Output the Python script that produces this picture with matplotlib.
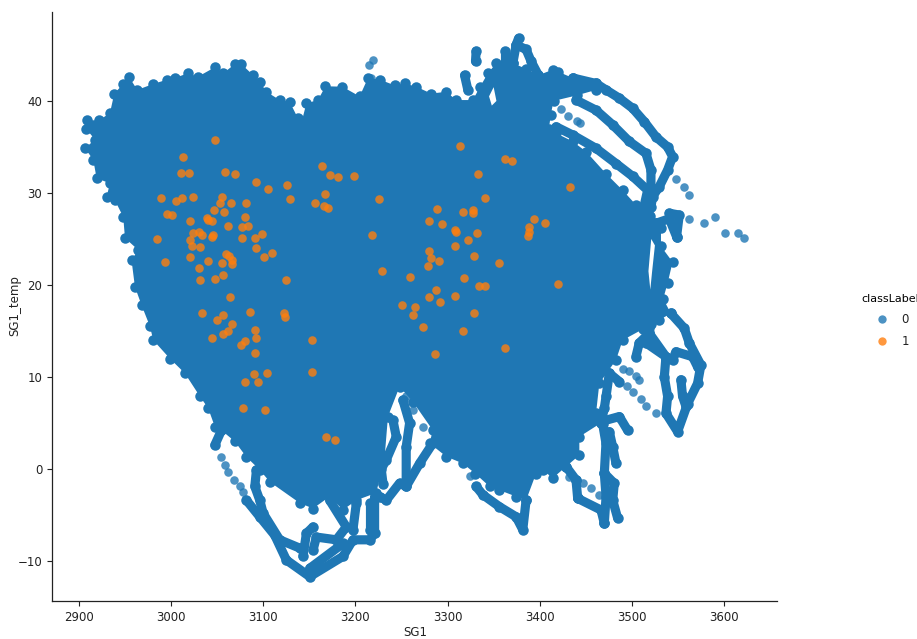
import matplotlib
matplotlib.use("Agg")
import matplotlib.pyplot as plt
from matplotlib.lines import Line2D

BLUE = "#1f77b4"
ORANGE = "#ff7f0e"

x_ticks = [2900, 3000, 3100, 3200, 3300, 3400, 3500, 3600]
y_ticks = [-10, 0, 10, 20, 30, 40]

# Outline of the solid mass of class 0 points (SG1, SG1_temp)
body = [
 (2907.6,37.0),(2909,37.9),(2922,37.9),(2933.6,38.7),(2938.3,40.8),(2948,41.85),(2954.5,42.6),(2963.2,41.2),
 (2980.6,41.85),(2995,42.3),(3004,42.5),(3017.8,43),(3029.3,42.65),(3048.1,43.7),(3056.4,43),(3069,44),
 (3076.3,44),(3089,42.8),(3096.2,42.1),(3103.4,41),(3117.9,40.1),(3128.7,39.9),(3137.7,38.1),(3141.3,37.6),
 (3146.8,39.75),(3159.4,40.1),(3167.4,41.6),(3185.8,41.55),(3204.6,40.5),(3213.6,42.5),(3227,42.3),(3242.5,41.7),
 (3253.4,41.9),(3266,41.55),(3282.3,40.8),(3298.5,41),(3309.4,40.1),(3327.4,40.1),(3335,41.5),(3343.7,43),
 (3352.7,44.1),(3362.5,43.5),(3370.8,44.1),(3385.2,43.5),(3398.6,42.8),(3414.1,43.4),(3419.6,43.2),(3435.8,42.5),
 (3461.1,41.9),(3461.1,41.2),(3440,40.6),(3415,40),(3412,38.5),(3410,37),(3417.7,36.5),(3435.8,35.6),
 (3450.3,34.5),(3472,32.1),(3490,30.3),(3504.5,28.7),(3520,27.5),(3526.1,26.7),(3531.6,26.2),(3531.6,24.2),
 (3544.2,22.5),(3538.8,20.2),(3534,18.5),(3542.4,16.9),(3529.7,16.2),(3512,15.2),(3490,14),(3482.8,11.85),
 (3464.7,9.3),(3461.1,6.05),(3466.5,5),(3443,3.5),(3443,1.5),(3428.6,0.26),(3414.1,-1),(3403.3,-0.1),
 (3396,-0.5),(3385.2,-3.4),(3374.4,-3),(3356.3,-2.3),(3345.5,-1.9),(3330,-0.5),(3316.6,0.6),(3298.5,1.35),
 (3280.4,2.8),(3284,4.2),(3262.4,7.3),(3247.9,8.95),(3235.3,5.7),(3231.7,1.3),(3222.6,-2.6),(3201,-3.4),
 (3186.5,-4.45),(3172,-3),(3154,-4.3),(3139.5,-3.7),(3107,-1.4),(3096.2,-0.1),(3081.7,1.3),(3069,3),
 (3054.6,4.2),(3047.4,4.6),(3040.2,6.6),(3031.1,7.9),(3014.9,10.4),(2998.6,12),(2980.6,14),(2977,15.5),
 (2967.9,17.8),(2960.7,19.8),(2957,22.7),(2964.3,23.8),(2949.9,25.1),(2948,27.4),(2939,29.2),(2930,29.6),
 (2933.6,31.05),(2919.1,31.6),(2915.5,33.6),(2906.5,34.86),(2917.3,35.8),
]

# Trails of class 0 points that stand clear of the mass
trails = [
 [(3435.8,42.5),(3461.1,41.9),(3472,41.2),(3486.4,40.3),(3500.9,39.2),(3513.5,37.75),(3526.1,36.1),(3538.8,35.0),
  (3544.2,33.95),(3538.8,32.5),(3529.8,30.7),(3522.5,29.6),(3520.7,28.5)],
 [(3439.4,40.1),(3461.1,39),(3479.2,37.4),(3497.2,35.6),(3515.3,34.3),(3520.7,32.5),(3520.7,30.3),(3518,27.5)],
 [(3417.7,37.2),(3435.8,36.3),(3461.1,34.85),(3482.8,33.2),(3500.9,31.8),(3517.1,30.3),(3512,28)],
 [(3526.1,26.7),(3540.6,27.2),(3548.5,25.25)],
 [(3540.6,27.8),(3551.4,27.6),(3548.5,25.25)],
 [(3330.3,44.3),(3331,45.4)],
 [(3362.5,43.5),(3362.5,45.4)],
 [(3370.8,44.1),(3374.4,46.1),(3377,46.8)],
 [(3374.4,46.1),(3385.2,45.6),(3390.7,44.3),(3398.6,42.8)],
 [(3322,41.2),(3318.4,42.8)],
 # lower right
 [(3542.4,16.9),(3556.8,15.3),(3562.3,13.7),(3574.9,11.3),(3571.3,9.3),(3560.5,7.1),(3549.6,4.06),(3537,6.05),
  (3538.8,7.9),(3535.2,10),(3537,12.2),(3515.3,13.7)],
 [(3504.4,12.2),(3508,13.7),(3518.9,14.75),(3520.7,15.8)],
 [(3537,12),(3544.2,11.85),(3547.8,12.75),(3565.9,12.2),(3571.3,11.1)],
 [(3553.2,9.7),(3555,7.9),(3558.7,6.8)],
 [(3518.9,14.75),(3537,12.2)],
 [(3475.5,10.4),(3472,7.9),(3470.1,6.6),(3466.5,5)],
 [(3475.5,10.4),(3486.4,9.5)],
 [(3468.3,5.2),(3486.4,5.7),(3495.4,4.2)],
 [(3475.5,4.06),(3479.2,2.4),(3482.8,0.6)],
 [(3468.3,4.9),(3471.9,2.8),(3470.1,-0.47),(3480.9,-1.56),(3479.2,-3.4),(3484.6,-5.36)],
 [(3470.1,-0.47),(3472,-3),(3470.1,-5.9)],
 [(3441.2,-3.2),(3466.5,-4.46),(3470.1,-5.9)],
 [(3439.4,-1.2),(3441.2,-3.2)],
 [(3428.6,0.26),(3439.4,-1.2)],
 [(3385.2,-3.4),(3381.6,-6.6),(3374.4,-5.2),(3356.3,-4.1),(3338.2,-2.8),(3331,-1.9)],
 # lower left
 [(3284,2.8),(3269.6,0.6),(3255.1,-1.9),(3247.9,-1.55),(3233.5,-3.4),(3226.2,-3)],
 [(3255.1,-1.9),(3255.1,2.4),(3258.8,5),(3251.5,7.5)],
 [(3240.7,5.3),(3244.3,3.5),(3233.5,1),(3228,0),(3229.9,-1.6)],
 [(3220.8,-3),(3220.8,-7),(3215.4,-7.7),(3197.3,-7.7),(3186.5,-9.5),(3150.4,-11.7),(3125.1,-9.9),(3112.4,-7.2),
  (3096.2,-5.2),(3081.7,-3.4)],
 [(3150.4,-10.8),(3186.5,-8.1)],
 [(3143.1,-9.5),(3146.8,-7),(3154,-6.3)],
 [(3154,-8.8),(3157.6,-7.4),(3179.3,-7.7),(3190.1,-6.3),(3172,-3.4)],
 [(3092.6,-0.1),(3090.8,-1.9),(3096.2,-3.4),(3099.8,-4.8),(3117.8,-7.7),(3139.5,-8.6)],
 [(3197.3,-6.6),(3201,-3.7)],
 [(3215.4,-6.6),(3215.4,-3.7)],
 [(3054.6,4.2),(3047.4,2.6)],
]

# Single class 0 points
lone_x = [3214.3,3219,3213.6,3217.2,3423.2,3430.4,3440.1,3443.8,3547.8,3556.9,3562.2,3562.2,3578.5,3590.1,3600.9,
          3615.4,3622,3255,3262.4,3273.2,3054.6,3058,3062,3068,3074.5,3078,3081.7,3490,3497,3504,3508,3486.4,
          3495,3500.8,3510,3515.3,3526.1,3432.2,3446.6,3456,3464.7,3323.8,3331,3338]
lone_y = [43.9,44.45,42.5,42.5,39.1,38.4,37.8,37.6,31.5,30.7,29.8,27.2,26.7,27.4,25.7,25.7,25.1,7.9,6.4,4.6,1.3,
          0.4,-0.3,-1.2,-1.9,-2.5,-3.4,10.9,10.6,10.1,9.7,9.5,9,8.4,7.6,6.8,6.05,-0.83,-1.56,-2.1,-2.8,-0.8,-1.9,
          -2.8]

# Class 1 points
one_x = [3047.8,3012.7,3010.9,3019.9,3058.6,3069.4,3092.6,3105.2,3125.8,3129.4,3163.4,3172.8,3181.5,3198.4,3166.6,
         3156.5,3166.3,3170.6,2988.5,3005.5,3011.6,3023.6,3055,3053.2,3064.7,3081,3046.7,3057.9,2995,3000.8,3020.3,
         3039.1,3040.5,3043.8,3079.9,3061.9,3077,3083.5,3030.1,3023.9,3033,3045.6,3043.8,3077,3091.1,3099.1,2984.5,
         3020.3,3022.1,3031.5,3092.2,3109.2,3101.2,3020,3059.3,3062.6,3065.8,3065.8,3039.5,3055,2993.2,3030.4,3056.1,
         3047.4,3030.8,3124.7,3064,3034,3085.3,3123,3123.6,3056.8,3049.6,3065.8,3090.8,3061.9,3056.8,3043.8,3091.9,
         3080.6,3152.9,3076.3,3090.8,3152.9,3285.9,3090,3094.4,3104.5,3080.3,3078.1,3102,3167.7,3177.8,3313.3,3362.8,
         3370.4,3332.8,3433,3225.9,3340.1,3288,3317,3327.8,3328.1,3280.1,3294.2,3393.9,3405.8,3388.8,3388.1,3387,
         3308,3309.5,3331.8,3218,3322.4,3307.9,3280.1,3281.5,3290.6,3278.6,3329.2,3356,3228.8,3259.1,3317.7,3419.5,
         3333.6,3340.1,3287,3279.7,3308.3,3291.3,3250.8,3264.9,3328.9,3262,3273.6,3316.9,3362.1]
one_y = [35.8,33.9,32.2,32.2,32.3,32.1,31.2,30.4,30.9,29.3,32.9,31.9,31.7,31.8,29.9,28.95,28.6,28.4,29.5,29.1,29.4,
         29.6,29.6,28.95,28.9,28.9,28.1,27.9,27.7,27.6,27,27.3,27.1,26.9,27.4,26.4,26.3,26.4,25.8,25.6,25.4,25.4,
         25.2,25.1,25.1,25.55,25,24.9,24.2,24.1,24,23.5,23.05,23.05,23.4,23.1,22.7,22.3,22.6,22.4,22.5,21.85,21.1,
         20.65,20.55,20.55,18.7,16.9,17.1,16.9,16.5,16.7,16.2,15.8,15.1,15,14.7,14.2,14.2,13.9,14,13.5,12.6,10.55,
         12.5,10.3,9.4,10.4,9.4,6.6,6.45,3.5,3.1,35.1,33.7,33.5,32.1,30.7,29.3,29.4,28.3,27.9,28.2,27.8,27,26.6,27.2,
         26.7,26.3,25.8,25.3,26,25.8,25.7,25.4,24.9,24.2,23.7,22.9,22.6,22.1,23.2,22.35,21.5,20.9,20.8,20.1,19.9,
         19.9,19.5,18.7,18.8,18.15,17.8,17.6,17,16.7,15.4,14.95,13.2]

# Unfilled pockets inside the mass
pockets = [
 [(3521,25),(3525,24.3),(3522,21.5),(3520,19.5),(3518,21.5)],
 [(3345,40.5),(3350,41.5),(3353,40),(3348,39.5)],
]

fig = plt.figure(figsize=(9.17, 6.39), dpi=100)
ax = fig.add_axes([52/917, 1-601/639, (777-52)/917, (601-12)/639])

MS = 38
LW = 6.6
bx, by = zip(*body)
ax.fill(bx, by, color=BLUE, lw=0, zorder=2)
ax.scatter(bx, by, s=MS*1.5, color=BLUE, lw=0, zorder=2)
for t in trails:
    tx, ty = zip(*t)
    ax.plot(tx, ty, color=BLUE, lw=LW, solid_capstyle="round", solid_joinstyle="round", zorder=2)
    ax.scatter(tx, ty, s=MS*1.5, color=BLUE, lw=0, zorder=2)
ax.scatter(lone_x, lone_y, s=MS, color=BLUE, alpha=0.8, lw=0, zorder=2)
for p in pockets:
    px_, py_ = zip(*p)
    ax.fill(px_, py_, color="white", lw=0, zorder=3)
ax.scatter(one_x, one_y, s=MS, color=ORANGE, alpha=0.8, lw=0, zorder=4)

ax.set_xlim(2870.7, 3657.5)
ax.set_ylim(-14.35, 49.67)
ax.set_xticks(x_ticks)
ax.set_yticks(y_ticks)
ax.tick_params(labelsize=8.5, length=3.5, width=0.8, pad=3.5, colors="#222222")
for s in ("top", "right"):
    ax.spines[s].set_visible(False)
for s in ("left", "bottom"):
    ax.spines[s].set_linewidth(0.9)
    ax.spines[s].set_color("#222222")

fig.text(15/917, 1-306/639, "SG1_temp", rotation=90, fontsize=8.5, ha="center", va="center", color="#222222")
fig.text(415/917, 1-632/639, "SG1", fontsize=8.5, ha="center", va="center", color="#222222")

handles = [Line2D([], [], marker="o", ls="", color=BLUE, alpha=0.8, ms=6, mew=0, label="0"),
           Line2D([], [], marker="o", ls="", color=ORANGE, alpha=0.8, ms=6, mew=0, label="1")]
fig.legend(handles=handles, title="classLabel", frameon=False, fontsize=8.5, title_fontsize=8,
           loc="center left", bbox_to_anchor=(855/917, 1-321/639), borderpad=0, labelspacing=0.75,
           handletextpad=0.6, handlelength=2.0, labelcolor="#222222")

fig.savefig("out.png", dpi=100)
